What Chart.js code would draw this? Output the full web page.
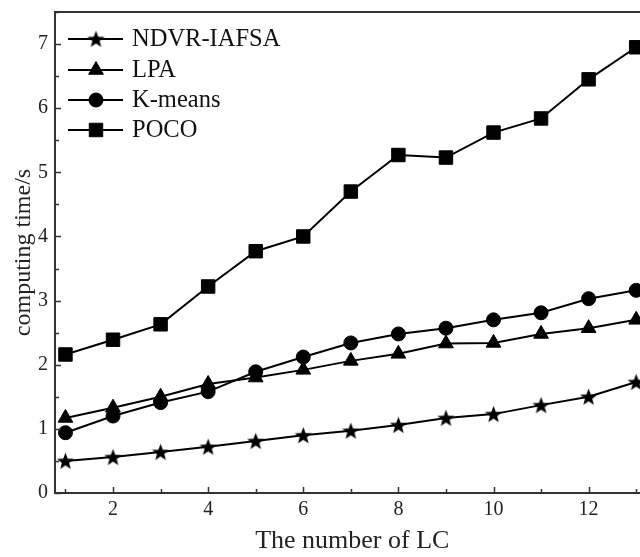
<!DOCTYPE html>
<html>
<head>
<meta charset="utf-8">
<script src="https://cdn.jsdelivr.net/npm/chart.js@4.4.1/dist/chart.umd.min.js"></script>
<style>
  html, body { margin: 0; padding: 0; background: #fff; overflow: hidden; }
  #wrap { width: 640px; height: 557px; overflow: hidden; }
</style>
</head>
<body>
<div id="wrap"><canvas id="lcChart" width="660" height="557"></canvas></div>
<script>
// number of LC on the x axis
var lcCounts = [1, 2, 3, 4, 5, 6, 7, 8, 9, 10, 11, 12, 13];
// computing time (s) per method
var ndvrIafsa = [0.50, 0.56, 0.64, 0.72, 0.81, 0.90, 0.97, 1.06, 1.17, 1.23, 1.37, 1.50, 1.73];
var lpa      = [1.17, 1.33, 1.50, 1.70, 1.80, 1.92, 2.06, 2.17, 2.33, 2.34, 2.48, 2.57, 2.70];
var kMeans   = [0.94, 1.20, 1.41, 1.58, 1.89, 2.12, 2.34, 2.48, 2.57, 2.70, 2.81, 3.03, 3.16];
var poco     = [2.16, 2.39, 2.63, 3.22, 3.77, 4.00, 4.70, 5.27, 5.23, 5.62, 5.84, 6.45, 6.95];
var seriesNames = ["NDVR-IAFSA", "LPA", "K-means", "POCO"];
// tick labels
var xTickLabels = [2, 4, 6, 8, 10, 12];
var yTickLabels = [0, 1, 2, 3, 4, 5, 6, 7];

var serif = "'Liberation Serif', 'Times New Roman', serif";
Chart.defaults.font.family = serif;
Chart.defaults.color = "#222";

// filled five point star for NDVR-IAFSA
function makeStar(size) {
	var c = document.createElement("canvas");
	c.width = size; c.height = size;
	var g = c.getContext("2d");
	var cx = size / 2, cy = size / 2 + 0.8, ro = size / 2 - 0.5, ri = ro * 0.42;
	g.beginPath();
	for (var i = 0; i < 10; i++) {
		var r = i % 2 == 0 ? ro : ri;
		var a = -Math.PI / 2 + i * Math.PI / 5;
		var px = cx + r * Math.cos(a), py = cy + r * Math.sin(a);
		if (i == 0) g.moveTo(px, py); else g.lineTo(px, py);
	}
	g.closePath();
	g.fillStyle = "#000";
	g.fill();
	return c;
}
var starImg = makeStar(19);

function toPoints(values) {
	return values.map(function(v, i) { return {x: lcCounts[i], y: v}; });
}
function series(label, values, style, radius) {
	return {
		label: label,
		data: toPoints(values),
		borderColor: "#000",
		backgroundColor: "#000",
		borderWidth: 2,
		pointStyle: style,
		pointRadius: radius,
		pointBorderWidth: 1,
		pointBackgroundColor: "#000",
		pointBorderColor: "#000",
		tension: 0
	};
}
var dataSets = [
	series(seriesNames[0], ndvrIafsa, starImg, 9),
	series(seriesNames[1], lpa, "triangle", 8.5),
	series(seriesNames[2], kMeans, "circle", 7),
	series(seriesNames[3], poco, "rect", 9.5)
];

// frame top line, inward ticks, legend inside the plot
var framePlugin = {
	id: "frame",
	afterDatasetsDraw: function(chart) {
		var ctx = chart.ctx, area = chart.chartArea;
		var xs = chart.scales.x, ys = chart.scales.y;
		ctx.save();
		ctx.strokeStyle = "#333";
		ctx.lineWidth = 2;
		ctx.beginPath();
		ctx.moveTo(area.left - 1, area.top);
		ctx.lineTo(area.right, area.top);
		ctx.stroke();
		ctx.lineWidth = 1.5;
		ctx.beginPath();
		for (var v = 0; v <= 7.5; v += 0.5) {
			var py = Math.round(ys.getPixelForValue(v)) + 0.5;
			var len = v % 1 == 0 ? 6 : 4;
			ctx.moveTo(area.left, py);
			ctx.lineTo(area.left + len, py);
		}
		for (var k = 1; k <= 13; k++) {
			var px = Math.round(xs.getPixelForValue(k)) + 0.5;
			var l2 = k % 2 == 0 ? 6 : 4;
			ctx.moveTo(px, area.bottom);
			ctx.lineTo(px, area.bottom - l2);
		}
		ctx.stroke();

		// legend
		var rows = [39, 70, 100, 130];
		ctx.font = "24.5px " + serif;
		ctx.textBaseline = "middle";
		ctx.textAlign = "left";
		chart.data.datasets.forEach(function(ds, i) {
			var y = rows[i];
			ctx.strokeStyle = "#000";
			ctx.fillStyle = "#000";
			ctx.lineWidth = 2;
			ctx.beginPath();
			ctx.moveTo(68, y);
			ctx.lineTo(123, y);
			ctx.stroke();
			ctx.lineWidth = 1;
			Chart.helpers.drawPoint(ctx, {pointStyle: ds.pointStyle, radius: ds.pointRadius, rotation: 0, borderWidth: 1}, 96, y);
			ctx.fillStyle = "#111";
			ctx.fillText(ds.label, 132, y + 1);
		});
		ctx.restore();
	}
};

new Chart(document.getElementById("lcChart"), {
	type: "line",
	data: { datasets: dataSets },
	options: {
		responsive: false,
		animation: false,
		layout: { padding: { top: 12, right: 4, left: 0, bottom: 0 } },
		plugins: { legend: { display: false }, tooltip: { enabled: false } },
		scales: {
			x: {
				type: "linear",
				min: 0.78,
				max: 13.28,
				grid: { display: false, drawTicks: false },
				border: { display: true, color: "#333", width: 2 },
				afterBuildTicks: function(scale) {
					scale.ticks = xTickLabels.map(function(v) { return {value: v}; });
				},
				afterFit: function(scale) { scale.height = 64; },
				ticks: { font: { size: 20 }, color: "#222", padding: 5, maxRotation: 0 },
				title: { display: true, text: "The number of LC", font: { size: 26 }, color: "#222", padding: { top: 0, bottom: 0 } }
			},
			y: {
				type: "linear",
				min: 0,
				max: 7.5,
				grid: { display: false, drawTicks: false },
				border: { display: true, color: "#333", width: 2 },
				afterBuildTicks: function(scale) {
					scale.ticks = yTickLabels.map(function(v) { return {value: v}; });
				},
				afterFit: function(scale) {
					scale.width = 55;
					scale.paddingTop = 0;
					scale.paddingBottom = 0;
				},
				ticks: { font: { size: 20 }, color: "#222", padding: 7 },
				title: { display: true, text: "computing time/s", font: { size: 24 }, color: "#222", padding: { top: 9, bottom: 0 } }
			}
		}
	},
	plugins: [framePlugin]
});
</script>
</body>
</html>
